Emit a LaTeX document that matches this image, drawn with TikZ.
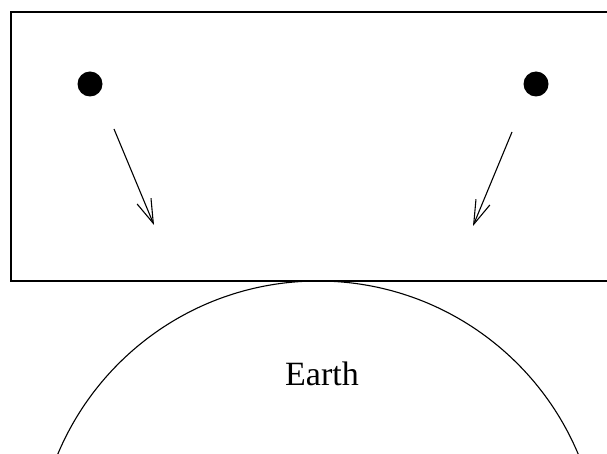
\documentclass[tikz,border=0pt]{standalone}
\usepackage{fontspec}
\setmainfont{Liberation Serif}
\usetikzlibrary{arrows.meta}

\begin{document}
\begin{tikzpicture}[
    x=1pt, y=-1pt,
    every node/.style={font=\fontsize{34}{40}\selectfont},
    particle/.style={circle, fill=black, minimum size=25pt, inner sep=0pt},
    motion/.style={-{Straight Barb[length=24pt, width=15pt]}, line width=1.1pt},
    frame/.style={draw=black, line width=1.1pt},
    planet/.style={draw=black, line width=1.1pt}
]
\useasboundingbox (0,0) rectangle (607,454);
\clip (0,0) rectangle (607,454);

% box with the two particles
\draw[frame] (11,12) rectangle (610,281);
\node[particle] (pleft) at (90,84) {};
\node[particle] (pright) at (536,84) {};

% their motion
\coordinate (lstart) at (114,129);
\coordinate (lend) at (154,225);
\coordinate (rstart) at (512,132);
\coordinate (rend) at (473,226);
\draw[motion] (lstart) -- (lend);
\draw[motion] (rstart) -- (rend);

% the earth below
\draw[planet] (318,563) circle (282);
\node (earth) at (322,374) {Earth};

\end{tikzpicture}
\end{document}
